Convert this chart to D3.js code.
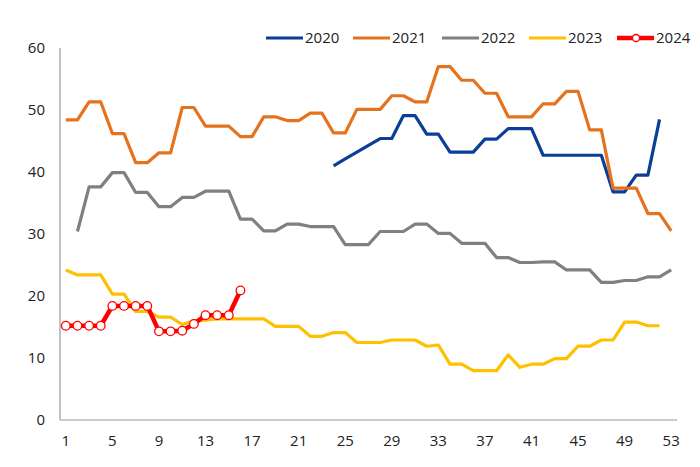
<!DOCTYPE html>
<html><head><meta charset="utf-8">
<script src="https://cdn.jsdelivr.net/npm/d3@7"></script>
<style>body{margin:0;background:#fff}svg{display:block;font-family:"Open Sans","Noto Sans",sans-serif}</style>
</head><body><svg id="c" width="700" height="467"></svg>
<script>
const weeks = d3.range(1, 54);
const xTicks = [1,5,9,13,17,21,25,29,33,37,41,45,49,53];
const yTicks = [0,10,20,30,40,50,60];
const seriesNames = ["2020","2021","2022","2023","2024"];
const colors = ["#0b3f95","#e5721c","#808080","#ffc000","#ff0000"];
const s2020 = [null,null,null,null,null,null,null,null,null,null,null,null,null,null,null,null,null,null,null,null,null,null,null,
  41.0,42.1,43.2,44.3,45.4,45.4,49.1,49.1,46.1,46.1,43.2,43.2,43.2,45.3,45.3,47.0,47.0,47.0,42.7,42.7,42.7,42.7,42.7,42.7,36.8,36.8,39.5,39.5,48.5,null];
const s2021 = [48.4,48.4,51.3,51.3,46.2,46.2,41.5,41.5,43.1,43.1,50.4,50.4,47.4,47.4,47.4,45.7,45.7,48.9,48.9,48.3,48.3,49.5,49.5,46.3,46.3,
  50.1,50.1,50.1,52.3,52.3,51.3,51.3,57.0,57.0,54.8,54.8,52.7,52.7,48.9,48.9,48.9,51.0,51.0,53.0,53.0,46.8,46.8,37.4,37.4,37.4,33.3,33.3,30.5];
const s2022 = [null,30.4,37.6,37.6,39.9,39.9,36.7,36.7,34.4,34.4,35.9,35.9,36.9,36.9,36.9,32.4,32.4,30.5,30.5,31.6,31.6,31.2,31.2,31.2,28.3,28.3,28.3,
  30.4,30.4,30.4,31.6,31.6,30.1,30.1,28.5,28.5,28.5,26.2,26.2,25.4,25.4,25.5,25.5,24.2,24.2,24.2,22.2,22.2,22.5,22.5,23.1,23.1,24.2];
const s2023 = [24.2,23.4,23.4,23.4,20.3,20.3,17.5,17.5,16.6,16.6,15.4,16.0,16.1,16.3,16.3,16.3,16.3,16.3,15.1,15.1,15.1,13.5,13.5,14.1,14.1,12.5,12.5,12.5,
  12.9,12.9,12.9,11.9,12.1,9.0,9.0,7.95,7.95,7.95,10.5,8.5,9.0,9.0,9.9,9.9,11.9,11.9,12.9,12.9,15.8,15.8,15.2,15.2,null];
const s2024 = [15.2,15.2,15.2,15.2,18.4,18.4,18.4,18.4,14.3,14.3,14.4,15.5,16.9,16.9,16.9,20.9];
const allSeries = [s2020,s2021,s2022,s2023,s2024];

const svg = d3.select("#c");
const x = d3.scaleLinear().domain([0.5,53.5]).range([60,677]);
const y = d3.scaleLinear().domain([0,60]).range([420,48]);

// axes
svg.append("line").attr("x1",60).attr("x2",60).attr("y1",y(60)).attr("y2",y(0)).attr("stroke","#999").attr("stroke-width",1.2);
svg.append("line").attr("x1",60).attr("x2",677).attr("y1",y(0)).attr("y2",y(0)).attr("stroke","#999").attr("stroke-width",1.2);
svg.selectAll(".yl").data(yTicks).enter().append("text")
  .attr("x",45).attr("y",d=>y(d)).attr("dy","0.35em").attr("text-anchor","end")
  .attr("font-size",15).attr("fill","#222").text(d=>d);
svg.selectAll(".xl").data(xTicks).enter().append("text")
  .attr("x",d=>x(d)).attr("y",441).attr("dy","0.35em").attr("text-anchor","middle")
  .attr("font-size",15).attr("fill","#222").text(d=>d);

const line = d3.line().x(d=>x(d.w)).y(d=>y(d.v)).curve(d3.curveLinear);
allSeries.forEach((s,i)=>{
  const pts = s.map((v,j)=>({w:weeks[j],v})).filter(d=>d.v!=null);
  svg.append("path").datum(pts).attr("d",line).attr("fill","none")
    .attr("stroke",colors[i]).attr("stroke-width",i===4?4.5:3.2).attr("stroke-linejoin","round");
  if(i===4){
    svg.selectAll(".m").data(pts).enter().append("circle")
      .attr("cx",d=>x(d.w)).attr("cy",d=>y(d.v)).attr("r",4.3)
      .attr("fill","#fff").attr("stroke",colors[i]).attr("stroke-width",1.3);
  }
});

// legend
const legX = [266,353,442,529,617];
seriesNames.forEach((n,i)=>{
  const g = svg.append("g").attr("transform",`translate(${legX[i]},38)`);
  g.append("line").attr("x1",0).attr("x2",37).attr("stroke",colors[i]).attr("stroke-width",i===4?4.5:3.2);
  if(i===4) g.append("circle").attr("cx",19).attr("r",3.5).attr("fill","#fff").attr("stroke",colors[i]).attr("stroke-width",1.3);
  g.append("text").attr("x",39).attr("dy","0.35em").attr("font-size",15).attr("fill","#222").text(n);
});
</script></body></html>
